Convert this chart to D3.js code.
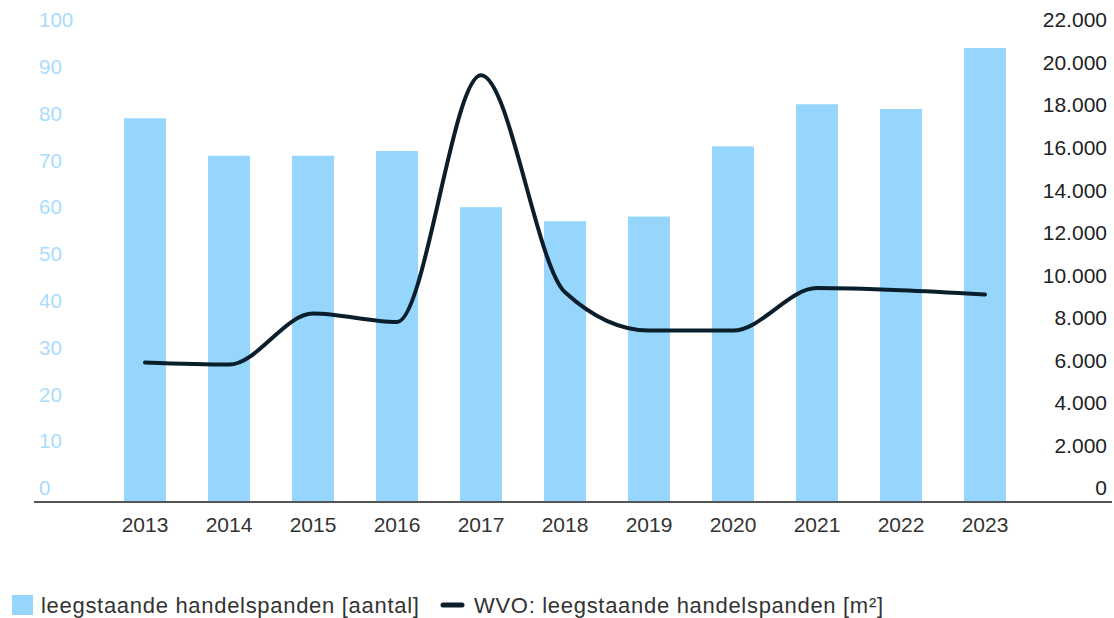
<!DOCTYPE html>
<html>
<head>
<meta charset="utf-8">
<script src="https://cdn.jsdelivr.net/npm/d3@7"></script>
<style>
  html, body { margin: 0; padding: 0; background: #fff; }
  svg { display: block; font-family: "Liberation Sans", Arial, sans-serif; }
</style>
</head>
<body>
<svg id="chart" width="1114" height="618"></svg>
<script>
// Vacant retail premises: count (bars) and floor area in m² (line)
const years = ["2013","2014","2015","2016","2017","2018","2019","2020","2021","2022","2023"];
const aantal = [79, 71, 71, 72, 60, 57, 58, 73, 82, 81, 94];
const wvo = [5900, 5800, 8200, 7800, 19400, 9200, 7400, 7400, 9400, 9300, 9100];
const leftTicks = [0,10,20,30,40,50,60,70,80,90,100];
const rightTicks = [0,2000,4000,6000,8000,10000,12000,14000,16000,18000,20000,22000];
const legendLabels = ["leegstaande handelspanden [aantal]", "WVO: leegstaande handelspanden [m²]"];

const barColor = "#96d6fd";
const lineColor = "#0b1e2c";
const leftLabelColor = "#a9dcfd";

const svg = d3.select("#chart");

const x = d3.scaleBand().domain(years).range([103, 1027]).paddingInner(0.5).paddingOuter(0.25);
const yL = d3.scaleLinear().domain([0, 100]).range([488, 20]);
const yR = d3.scaleLinear().domain([0, 22000]).range([488, 20]);

// bars
svg.append("g").selectAll("rect").data(years).join("rect")
  .attr("x", d => x(d))
  .attr("width", x.bandwidth())
  .attr("y", (d, i) => yL(aantal[i]))
  .attr("height", (d, i) => 502 - yL(aantal[i]))
  .attr("fill", barColor);

// baseline
svg.append("line").attr("x1", 34).attr("x2", 1112).attr("y1", 502).attr("y2", 502)
  .attr("stroke", "#555").attr("stroke-width", 2);

// left axis labels
svg.append("g").selectAll("text").data(leftTicks).join("text")
  .attr("x", 39).attr("y", d => yL(d)).attr("dy", "0.35em")
  .attr("font-size", 20.5).attr("fill", leftLabelColor)
  .text(d => d);

// right axis labels (Dutch thousands separator)
const fmt = d3.formatLocale({decimal: ",", thousands: ".", grouping: [3], currency: ["€", ""]}).format(",");
svg.append("g").selectAll("text").data(rightTicks).join("text")
  .attr("x", 1107).attr("y", d => yR(d)).attr("dy", "0.35em")
  .attr("text-anchor", "end").attr("font-size", 21).attr("fill", "#222")
  .text(d => fmt(d));

// year labels
svg.append("g").selectAll("text").data(years).join("text")
  .attr("x", d => x(d) + x.bandwidth() / 2).attr("y", 525).attr("dy", "0.35em")
  .attr("text-anchor", "middle").attr("font-size", 21).attr("fill", "#333")
  .text(d => d);

// floor-area line
const line = d3.line()
  .x((d, i) => x(years[i]) + x.bandwidth() / 2)
  .y(d => yR(d))
  .curve(d3.curveMonotoneX);
svg.append("path").datum(wvo).attr("d", line)
  .attr("fill", "none").attr("stroke", lineColor).attr("stroke-width", 4)
  .attr("stroke-linejoin", "round").attr("stroke-linecap", "round");

// legend
const lg = svg.append("g");
lg.append("rect").attr("x", 12).attr("y", 595).attr("width", 21).attr("height", 20).attr("fill", barColor);
lg.append("text").attr("x", 41).attr("y", 605).attr("dy", "0.35em").attr("font-size", 22)
  .attr("letter-spacing", 0.7).attr("fill", "#333")
  .text(legendLabels[0]);
lg.append("line").attr("x1", 443).attr("x2", 462).attr("y1", 605).attr("y2", 605)
  .attr("stroke", lineColor).attr("stroke-width", 5).attr("stroke-linecap", "round");
lg.append("text").attr("x", 474).attr("y", 605).attr("dy", "0.35em").attr("font-size", 22)
  .attr("letter-spacing", 0.7).attr("fill", "#333")
  .text(legendLabels[1]);
</script>
</body>
</html>
